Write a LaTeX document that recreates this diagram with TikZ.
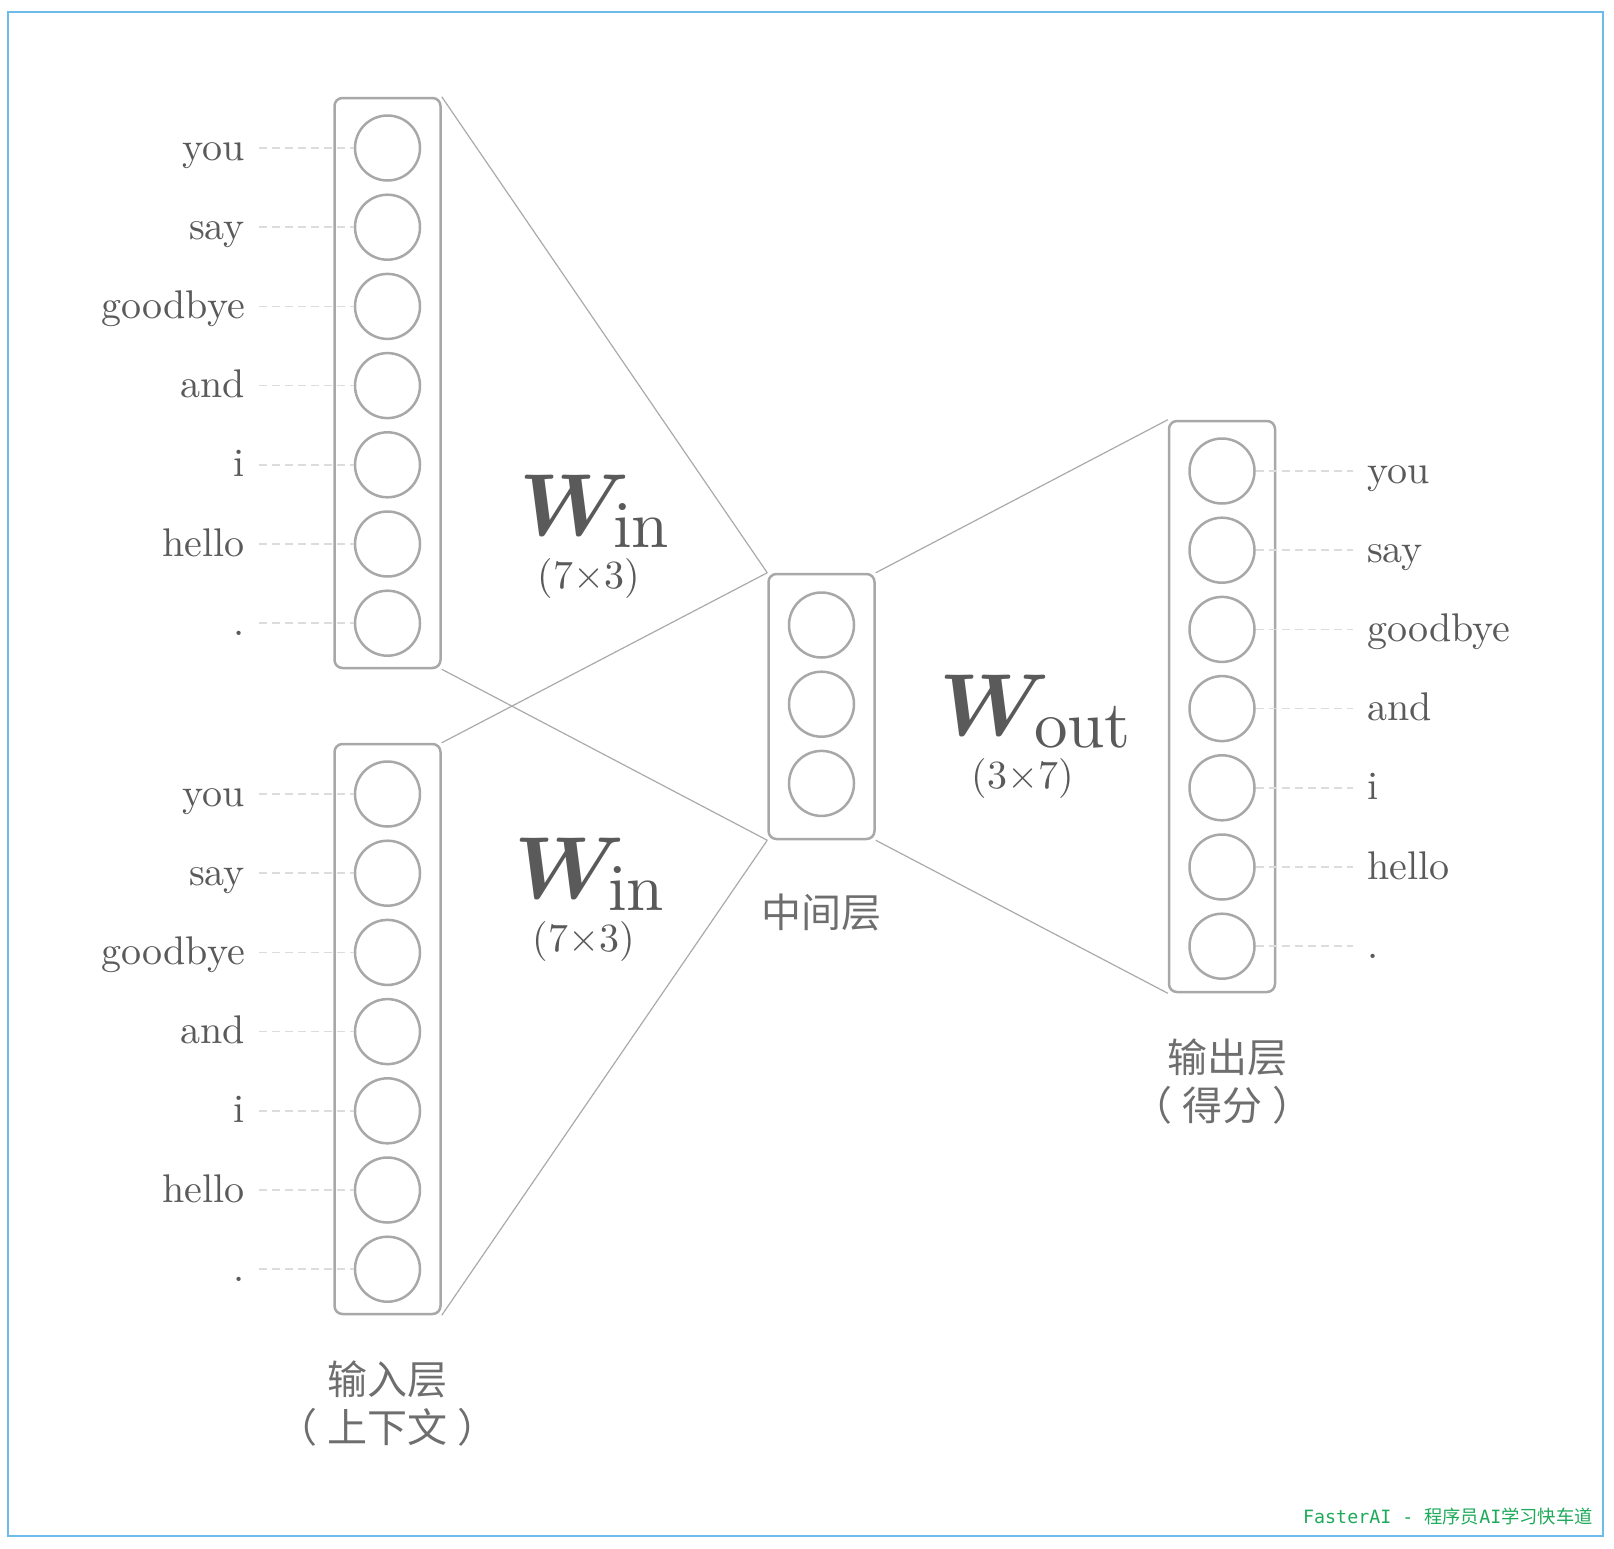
\documentclass[tikz,border=0pt]{standalone}
\usepackage{fontspec}
\usepackage{unicode-math}
\setmainfont{lmroman10-regular}[Extension=.otf]
\setmathfont{Latin Modern Math}
\newfontfamily\cjk{Noto Sans CJK SC}
\newfontfamily\wmono{DejaVu Sans Mono}
\definecolor{boxc}{RGB}{168,168,168}
\definecolor{linec}{RGB}{170,170,170}
\definecolor{dashc}{RGB}{220,220,220}
\definecolor{txtc}{RGB}{90,90,90}
\definecolor{cjkc}{RGB}{110,110,110}
\definecolor{framec}{RGB}{108,187,234}
\definecolor{wmc}{RGB}{30,170,90}
\begin{document}
\begin{tikzpicture}[x=1pt,y=-1pt,
  box/.style={draw=boxc, line width=2.5pt, rounded corners=8pt, minimum width=106pt, inner sep=0pt},
  neuron/.style={circle, draw=boxc, line width=2.5pt, minimum size=65pt, inner sep=0pt},
  wlab/.style={text=txtc, font=\fontsize{40}{48}\selectfont, inner sep=0pt},
  bigw/.style={text=txtc, font=\fontsize{88}{100}\selectfont, inner sep=0pt, anchor=base west},
  subw/.style={text=txtc, font=\fontsize{67}{75}\selectfont, inner sep=0pt, anchor=base west},
  dimw/.style={text=txtc, font=\fontsize{40}{48}\selectfont, inner sep=0pt, anchor=base},
  cjklab/.style={text=cjkc, font=\cjk\fontsize{40}{48}\selectfont, inner sep=0pt},
  dl/.style={draw=dashc, line width=1.5pt, dash pattern=on 8pt off 5pt},
  conn/.style={draw=linec, line width=1.2pt}]
\useasboundingbox (0,0) rectangle (1614,1548);
\draw[framec, line width=2pt] (8,12) rectangle (1603,1536);

\node[box, minimum height=570pt] (in1) at (387.5,383) {};
\node[box, minimum height=570pt] (in2) at (387.5,1029) {};
\node[box, minimum height=265pt] (mid) at (821.5,706.5) {};
\node[box, minimum height=571pt] (out) at (1222,706.5) {};

\foreach \w [count=\k] in {you,say,goodbye,and,i,hello,.}{
  \pgfmathsetmacro\ya{148+79.2*(\k-1)}
  \pgfmathsetmacro\yb{794+79.2*(\k-1)}
  \pgfmathsetmacro\yc{471+79.2*(\k-1)}
  \node[neuron] (a\k) at (387.5,\ya) {};
  \node[wlab, anchor=base east] (la\k) at (245,\ya+12) {\w};
  \coordinate (da\k) at (259,\ya);
  \draw[dl] (da\k) -- (a\k.west);
  \node[neuron] (b\k) at (387.5,\yb) {};
  \node[wlab, anchor=base east] (lb\k) at (245,\yb+12) {\w};
  \coordinate (db\k) at (259,\yb);
  \draw[dl] (db\k) -- (b\k.west);
  \node[neuron] (c\k) at (1222,\yc) {};
  \node[wlab, anchor=base west] (lc\k) at (1367,\yc+12) {\w};
  \coordinate (dc\k) at (1353,\yc);
  \draw[dl] (c\k.east) -- (dc\k);
}
\foreach \k in {1,2,3}{
  \pgfmathsetmacro\ym{625+79.2*(\k-1)}
  \node[neuron] (m\k) at (821.5,\ym) {};
}

\draw[conn] (in1.north east) -- (mid.north west);
\draw[conn] (in1.south east) -- (mid.south west);
\draw[conn] (in2.north east) -- (mid.north west);
\draw[conn] (in2.south east) -- (mid.south west);
\draw[conn] (mid.north east) -- (out.north west);
\draw[conn] (mid.south east) -- (out.south west);

\node[bigw] (w1) at (519,535) {$\symbfit{W}$};
\node[subw] (s1) at (613,547) {in};
\node[dimw] (d1) at (589,588) {(7×3)};
\node[bigw] (w2) at (514,898) {$\symbfit{W}$};
\node[subw] (s2) at (608,910) {in};
\node[dimw] (d2) at (584,951) {(7×3)};
\node[bigw] (w3) at (939,735) {$\symbfit{W}$};
\node[subw] (s3) at (1034,747) {out};
\node[dimw] (d3) at (1023,788) {(3×7)};

\node[cjklab] (midlab) at (821,912) {中间层};
\node[cjklab] (outlab1) at (1227,1057) {输出层};
\node[cjklab] (outlab2) at (1222,1105) {（\hspace{10pt}得分\hspace{10pt}）};
\node[cjklab] (inlab1) at (387,1379) {输入层};
\node[cjklab] (inlab2) at (387,1427) {（\hspace{10pt}上下文\hspace{10pt}）};

\node[anchor=base east, inner sep=0pt, text=wmc, font=\wmono\fontsize{18.3}{22}\selectfont] (wm) at (1593,1523) {FasterAI - {\cjk 程序员}AI{\cjk 学习快车道}};
\end{tikzpicture}
\end{document}
